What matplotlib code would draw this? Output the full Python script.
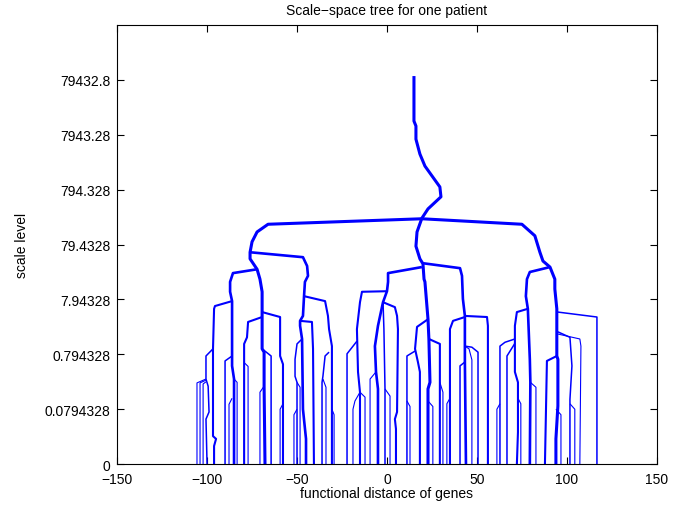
import matplotlib
matplotlib.use("Agg")
import matplotlib.pyplot as plt

plt.rcParams["font.family"]=["Liberation Sans","DejaVu Sans"]
plt.rcParams["axes.unicode_minus"]=True

# scale-space tree, each branch is a path (x, scale index) from its parent down to level 0
trunk_branches=[
    [(15.0,7.07),(15.0,6.25),(16.1,6.16),(16.1,5.92),(18.3,5.65),(21.1,5.43),(29.4,5.05),(30.0,4.87),
     (22.8,4.65),(19.4,4.48),(16.7,4.23),(16.1,3.97),(18.3,3.74),(20.0,3.65),(20.6,3.37),(21.1,3.32),
     (22.2,2.88),(22.8,2.64),(23.3,2.28),(23.9,1.49),(22.8,1.37),(22.8,0)],
    [(19.4,4.47),(-66.1,4.37),(-72.2,4.23),(-75.0,4.05),(-76.1,3.86),(-76.1,3.74),(-72.2,3.55),(-70.6,3.37),
     (-69.4,3.14),(-69.4,2.77),(-69.4,2.10),(-68.3,2.04),(-68.3,1.42),(-67.8,0)],
    [(19.4,4.47),(75.0,4.37),(82.2,4.16),(85.0,3.86),(86.7,3.70),(90.6,3.59),(93.3,3.37),(93.3,3.19),
     (94.4,2.83),(94.4,1.97),(95.0,1.91),(95.0,1.06),(93.9,0.46),(93.9,0)],
]

major_branches=[
    [(-76.1,3.86),(-46.7,3.77),(-44.4,3.61),(-43.9,3.43),(-45.6,3.32),(-46.1,3.06),(-46.7,2.70),(-48.3,2.61),
     (-48.3,2.52),(-47.2,2.28),(-46.7,1.00),(-45.0,0.46),(-45.0,0)],
    [(-72.2,3.55),(-85.6,3.48),(-87.2,3.32),(-87.2,3.14),(-86.1,2.97),(-86.1,1.79),(-85.0,1.55),(-85.0,0)],
    [(19.4,3.59),(0.6,3.48),(0.6,3.32),(0.0,3.15),(-2.2,2.95),(-5.0,2.52),(-6.7,2.15),(-6.1,1.68),(-5.0,1.37),(-5.0,0)],
    [(20.0,3.66),(40.6,3.57),(41.7,3.43),(42.2,3.01),(43.3,2.70),(43.3,2.15),(43.3,1.86),(43.9,0)],
    [(90.6,3.59),(79.4,3.50),(77.8,3.37),(77.2,3.06),(78.3,2.83),(79.4,1.91),(79.7,1.49),(79.4,0)],
]

middle_branches=[
    [(-86.1,2.97),(-95.6,2.88),(-96.1,2.83),(-96.7,2.10),(-96.7,0.51),(-95.0,0.46),(-96.1,0.33),(-96.1,0)],
    [(-69.4,2.77),(-59.4,2.68),(-59.4,1.97),(-57.8,1.82),(-57.8,0)],
    [(-69.4,2.68),(-77.2,2.59),(-77.8,2.31),(-79.4,2.19),(-79.4,0)],
    [(-46.1,3.06),(-34.4,2.97),(-32.8,2.70),(-32.2,2.46),(-30.6,2.15),(-30.6,0)],
    [(-48.3,2.61),(-41.7,2.59),(-41.1,2.10),(-40.6,0)],
    [(0.0,3.15),(-13.9,3.14),(-15.0,2.95),(-16.7,2.46),(-16.1,1.68),(-15.0,1.31),(-15.0,0)],
    [(-2.2,2.95),(4.4,2.86),(5.6,2.70),(6.1,2.46),(5.6,0.95),(4.4,0.82),(5.0,0.64),(5.0,0)],
    [(22.8,2.64),(16.7,2.50),(15.6,2.10),(17.2,1.86),(18.3,1.68),(18.3,1.24),(18.3,0)],
    [(23.3,2.28),(29.4,2.19),(29.4,1.49),(29.4,0)],
    [(43.3,2.70),(55.6,2.68),(56.1,2.52),(56.1,0)],
    [(43.3,2.68),(36.7,2.61),(35.0,2.46),(35.0,0)],
    [(78.3,2.83),(72.2,2.77),(71.1,2.52),(71.1,2.28),(71.1,1.68),(72.8,1.49),(72.8,0.58),(72.2,0)],
    [(94.4,1.97),(88.9,1.88),(87.8,0)],
]

minor_branches=[
    [(-2.2,2.95),(-1.7,2.46),(-1.1,1.37),(-1.1,0)],
    [(-96.7,2.10),(-100.6,1.97),(-100.6,1.55),(-99.4,1.42),(-98.9,0.95),(-100.6,0.82),(-100.0,0)],
    [(-32.2,2.04),(-34.4,1.97),(-35.6,1.60),(-36.1,1.49),(-36.1,0)],
    [(-47.2,2.28),(-50.0,2.19),(-51.1,1.91),(-51.1,1.60),(-50.0,1.49),(-50.0,0)],
    [(15.6,2.06),(11.1,1.97),(11.1,0)],
    [(71.1,2.28),(65.6,2.22),(62.8,2.15),(62.8,0)],
    [(95.0,2.77),(116.7,2.68),(116.7,0)],
    [(95.0,2.41),(101.7,2.31),(102.8,1.79),(101.7,1.18),(101.7,0)],
    [(-69.4,2.10),(-64.4,1.97),(-64.4,0)],
    [(-16.7,2.24),(-22.2,2.01),(-22.2,0)],
    [(43.3,2.15),(47.2,2.13),(50.6,2.04),(50.6,0)],
    [(43.3,1.86),(40.6,1.79),(40.6,0)],
    [(71.1,2.20),(66.7,1.97),(66.7,0)],
    [(-86.1,1.97),(-90.0,1.88),(-90.0,0)],
]

leaf_branches=[
    [(-100.6,1.55),(-105.6,1.48),(-105.6,0)],
    [(-100.6,1.53),(-103.9,1.48),(-103.9,0)],
    [(-100.6,1.50),(-102.2,1.46),(-102.2,0)],
    [(-86.1,1.20),(-87.8,1.09),(-87.8,0)],
    [(-85.0,1.55),(-83.3,1.49),(-83.3,0)],
    [(-79.4,1.85),(-77.2,1.78),(-77.2,0)],
    [(-68.3,1.42),(-70.6,1.31),(-70.6,0)],
    [(-57.8,1.10),(-59.4,1.00),(-59.4,0)],
    [(-35.6,1.55),(-33.9,1.40),(-33.9,0)],
    [(-30.6,1.00),(-29.4,0.90),(-29.4,0)],
    [(-50.0,1.49),(-48.3,1.40),(-48.3,0)],
    [(-50.0,1.00),(-51.7,0.90),(-51.7,0)],
    [(-15.0,1.31),(-17.8,1.15),(-18.9,1.00),(-18.9,0)],
    [(-15.0,1.31),(-12.2,1.22),(-12.2,0)],
    [(-6.1,1.68),(-9.4,1.55),(-9.4,0)],
    [(-1.1,1.37),(1.7,1.24),(1.7,0)],
    [(11.1,1.15),(12.8,1.05),(12.8,0)],
    [(22.8,1.15),(25.5,1.05),(25.5,0)],
    [(29.4,1.49),(31.1,1.31),(31.1,0)],
    [(35.0,1.20),(33.3,1.10),(33.3,0)],
    [(43.3,2.15),(45.6,2.10),(47.2,1.90),(47.2,0)],
    [(62.8,1.10),(61.1,1.00),(61.1,0)],
    [(72.8,1.20),(74.4,1.10),(74.4,0)],
    [(79.7,1.49),(82.8,1.40),(82.8,0)],
    [(93.9,1.00),(96.7,0.90),(96.7,0)],
    [(101.7,1.10),(104.4,1.00),(104.4,0)],
    [(95.0,2.37),(107.2,2.28),(107.8,2.15),(107.2,0)],
]

x_ticks=[-150,-100,-50,0,50,100,150]
y_ticks=[0,1,2,3,4,5,6,7]
y_tick_labels=["0","0.0794328","0.794328","7.94328","79.4328","794.328","7943.28","79432.8"]

def draw_branches(ax,branches,width):
    for branch in branches:
        xs=[p[0] for p in branch]
        ys=[p[1] for p in branch]
        ax.plot(xs,ys,color=(0,0,1),lw=width,solid_joinstyle="round",solid_capstyle="butt")

def main():
    fig=plt.figure(figsize=(6.73,5.10),dpi=100)
    ax=fig.add_axes([0.174,0.088,0.802,0.861])

    draw_branches(ax,leaf_branches,0.8)
    draw_branches(ax,minor_branches,1.1)
    draw_branches(ax,middle_branches,1.5)
    draw_branches(ax,major_branches,1.9)
    draw_branches(ax,trunk_branches,2.2)

    ax.set_xlim(-150,150)
    ax.set_ylim(0,8)
    ax.set_xticks(x_ticks)
    ax.set_yticks(y_ticks)
    ax.set_yticklabels(y_tick_labels)
    ax.tick_params(direction="in",top=True,right=True,length=5,labelsize=10)
    ax.tick_params(axis="x",pad=6)
    ax.tick_params(axis="y",pad=5)
    for spine in ax.spines.values():
        spine.set_linewidth(0.8)

    ax.set_xlabel("functional distance of genes",fontsize=10,labelpad=0)
    ax.set_ylabel("scale level",fontsize=10,labelpad=11)
    ax.set_title("Scale\u2212space tree for one patient",fontsize=10,pad=8)

    fig.savefig("out.png",dpi=100)

if __name__=="__main__":
    main()
